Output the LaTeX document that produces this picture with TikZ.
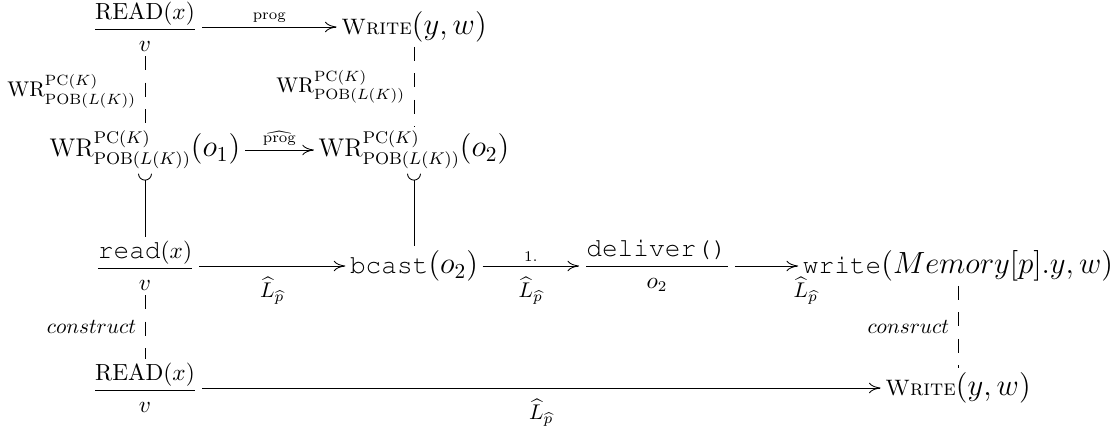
\documentclass[tikz,border=0pt]{standalone}
\usepackage{amsmath}
\usetikzlibrary{arrows.meta}
\tikzset{
  ent/.style={inner sep=2pt, font=\fontsize{10.5}{12.6}\selectfont},
  arr/.style={-{To[length=5.5pt,width=5pt]}},
  dsh/.style={dash pattern=on 6.6pt off 5.8pt},
  hk/.style={{Arc Barb[reversed,length=3.2pt,width=6.5pt]}-},
  lbl/.style={inner sep=2pt},
}
\newcommand{\wrpob}{\mathrm{WR}^{\mathrm{PC}(K)}_{\mathrm{POB}(L(K))}}
\newcommand{\lhat}{$\widehat{L}_{\widehat{p}}$}
\newcommand{\cour}{\fontencoding{T1}\fontfamily{pcr}\fontsize{12.3}{14}\selectfont}

\begin{document}
\begin{tikzpicture}[x=0.47pt, y=-0.47pt]
      \useasboundingbox (0,0) rectangle (1119,427);
      % top row
      \node[ent] (rdA)  at (145,27)  {$\dfrac{\mathrm{READ}(x)}{v}$};
      \node[ent] (wrtA) at (414,27)  {\textsc{Write}{\Large$(y,w)$}};
      % the WR row
      \node[ent] (wrB)  at (145,150) {{\large$\wrpob$}{\Large$(o_1)$}};
      \node[ent] (wrC)  at (414,150) {{\large$\wrpob$}{\Large$(o_2)$}};
      % the implementation
      \node[ent] (rdB)  at (145,266) {$\dfrac{\text{\cour read}(x)}{v}$};
      \node[ent] (bc)   at (414,266) {{\cour bcast}{\Large$(o_2)$}};
      \node[ent] (dlv)  at (657,266) {$\dfrac{\text{\cour deliver()}}{o_2}$};
      \node[ent] (wrm)  at (958,266) {{\cour write}{\Large$(Memory[p].y,w)$}};
      % bottom row
      \node[ent] (rdC)  at (145,388) {$\dfrac{\mathrm{READ}(x)}{v}$};
      \node[ent] (wrtB) at (958,388) {\textsc{Write}{\Large$(y,w)$}};

      \draw[arr] (rdA) -- node[lbl, above] {$\scriptstyle\mathrm{prog}$} (wrtA);
      \draw[dsh] (rdA) -- node[lbl, left=2pt] {$\wrpob$} (wrB);
      \draw[dsh] (wrtA) -- node[lbl, left=2pt] {$\wrpob$} (wrC);
      \draw[arr] (wrB) -- node[lbl, above] {$\scriptstyle\widehat{\mathrm{prog}}$} (wrC);
      \draw[hk] (wrB) -- (rdB);
      \draw[hk] (wrC) -- (bc);
      \draw[arr] (rdB) -- node[lbl, below=3pt] {\lhat} (bc);
      \draw[arr] (bc) -- node[lbl, above] {$\scriptstyle 1.$} node[lbl, below=3pt] {\lhat} (dlv);
      \draw[arr] (dlv) -- node[lbl, below=3pt, pos=1.12] {\lhat} (wrm);
      \draw[dsh] (rdB) -- node[lbl, left=2pt] {$construct$} (rdC);
      \draw[dsh] (wrm) -- node[lbl, left=2pt] {$consruct$} (wrtB);
      \draw[arr] (rdC) -- node[lbl, below=3pt] {\lhat} (wrtB);
    \end{tikzpicture}
\end{document}
